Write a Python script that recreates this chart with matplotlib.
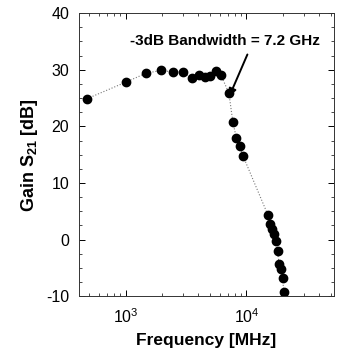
import numpy as np
import matplotlib
matplotlib.use('Agg')
import matplotlib.pyplot as plt
from matplotlib.ticker import MultipleLocator, LogLocator, NullFormatter

plt.rcParams['font.family'] = ['Liberation Sans', 'DejaVu Sans']
plt.rcParams['mathtext.fontset'] = 'custom'
plt.rcParams['mathtext.rm'] = 'Liberation Sans:bold'
plt.rcParams['mathtext.it'] = 'Liberation Sans:bold'
plt.rcParams['mathtext.bf'] = 'Liberation Sans:bold'
plt.rcParams['axes.unicode_minus'] = False

# measured gain vs frequency
freq = [480, 1000, 1480, 1980, 2450, 2970, 3520, 4030, 4500, 4950, 5620, 6170,
        7160, 7730, 8250, 8790, 9370,
        15100, 15800, 16400, 16900, 17500, 18100, 18600, 19300, 19900, 20400]
gain = [24.9, 27.8, 29.4, 29.9, 29.6, 29.6, 28.5, 29.0, 28.7, 28.9, 29.7, 29.0,
        25.9, 20.7, 18.0, 16.5, 14.8,
        4.3, 2.8, 1.9, 1.0, -0.2, -2.0, -4.3, -5.2, -6.7, -9.2]

fig = plt.figure(figsize=(3.4, 3.56), dpi=100)
ax = fig.add_axes([0.232, 0.168, 0.75, 0.795])

ax.plot(freq, gain, color='#777777', ls=':', lw=0.8, zorder=1)
ax.plot(freq, gain, 'o', color='black', ms=6, zorder=2)

ax.set_xscale('log')
ax.set_xlim(410, 53000)
ax.set_ylim(-10, 40)
ax.yaxis.set_major_locator(MultipleLocator(10))
ax.yaxis.set_minor_locator(MultipleLocator(2.5))
ax.xaxis.set_major_locator(LogLocator(base=10, numticks=10))
ax.xaxis.set_minor_locator(LogLocator(base=10, subs=np.arange(2, 10), numticks=20))
ax.xaxis.set_minor_formatter(NullFormatter())
ax.tick_params(which='both', direction='in', top=True, right=True, labelsize=11.5)
ax.tick_params(which='major', length=4, width=0.7)
ax.tick_params(which='minor', length=2, width=0.5)
ax.tick_params(axis='x', pad=8)
ax.tick_params(axis='y', pad=7)
for s in ax.spines.values():
    s.set_linewidth(0.7)
    s.set_color('#333333')

ax.set_xlabel('Frequency [MHz]', fontsize=12.5, fontweight='bold', labelpad=5)
ax.set_ylabel('Gain S$_{21}$ [dB]', fontsize=13, fontweight='bold', labelpad=4)

ax.text(6700, 35.0, '-3dB Bandwidth = 7.2 GHz', ha='center', va='center',
        fontsize=11, fontweight='bold')
ax.annotate('', xy=(7215, 25.3), xytext=(10190, 32.7),
            arrowprops=dict(arrowstyle='-|>', color='black', lw=1.4,
                            mutation_scale=11, shrinkA=0, shrinkB=0))

fig.savefig('out.png', dpi=100)
